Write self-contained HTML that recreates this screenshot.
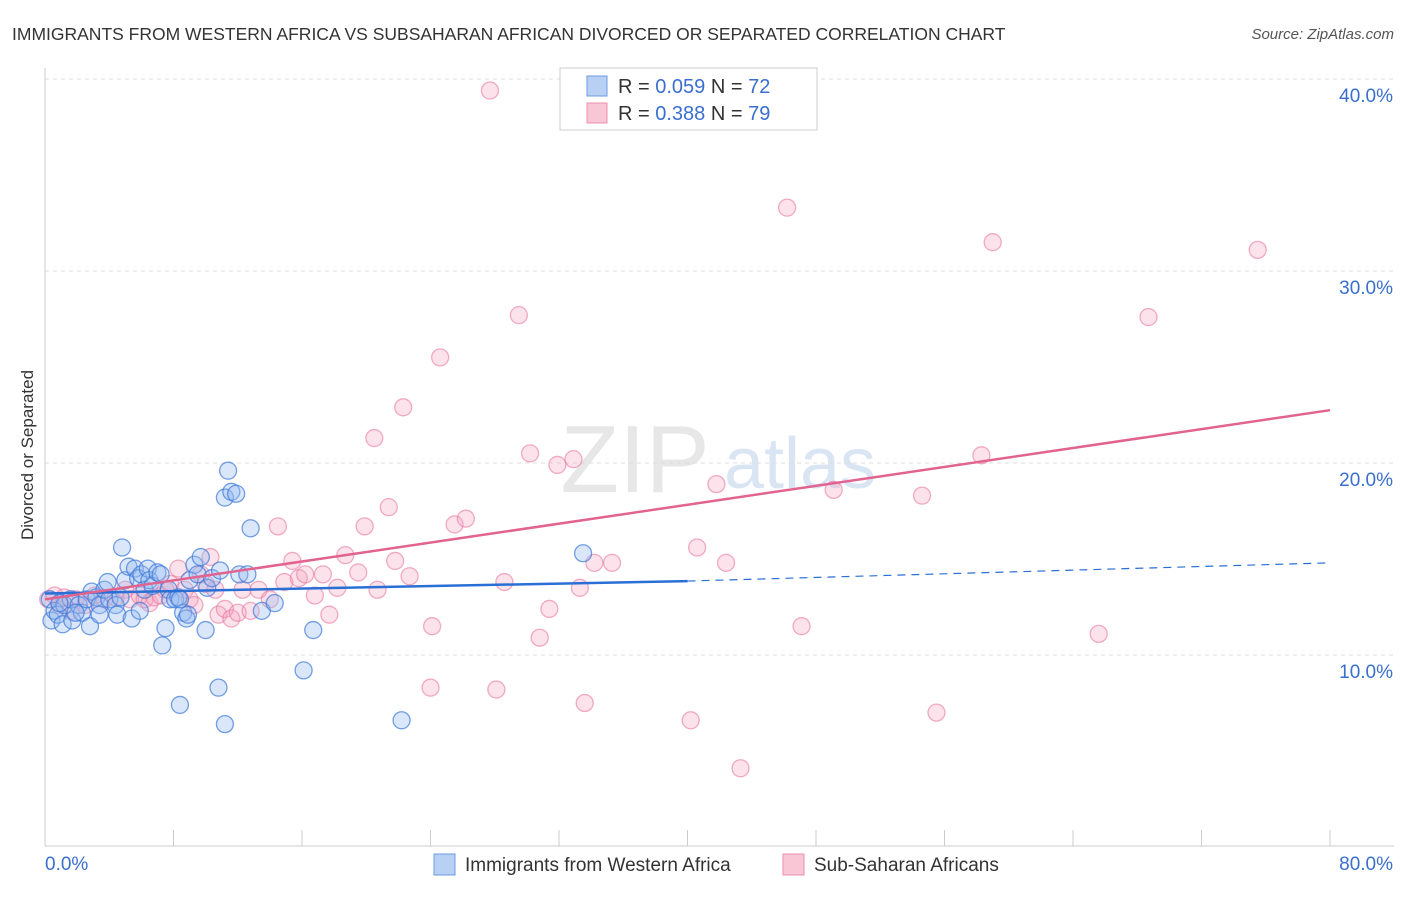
<!DOCTYPE html>
<html><head><meta charset="utf-8">
<style>
body{margin:0;background:#fff;font-family:"Liberation Sans",sans-serif;}
svg text{font-family:"Liberation Sans",sans-serif;}
</style></head>
<body>
<svg id="chart" width="1406" height="892" xmlns="http://www.w3.org/2000/svg">
<text x="12" y="40" font-size="17.5" fill="#333">IMMIGRANTS FROM WESTERN AFRICA VS SUBSAHARAN AFRICAN DIVORCED OR SEPARATED CORRELATION CHART</text>
<text x="1394" y="39" font-size="15" fill="#555" text-anchor="end" font-style="italic">Source: ZipAtlas.com</text>
<text transform="translate(33,455) rotate(-90)" font-size="17" fill="#333" text-anchor="middle">Divorced or Separated</text>
<g>
<text x="635" y="492" font-size="96" fill="#d8d8d8" text-anchor="middle" font-family="Liberation Serif" opacity="0.6">ZIP</text>
<text x="800" y="488" font-size="72" fill="#c3d4ee" text-anchor="middle" opacity="0.6">atlas</text>
</g>
<g id="grid"></g>
<g id="pts"></g>
<g id="lines"></g>
<g>
<rect x="560" y="68" width="257" height="62" fill="#fff" stroke="#ccc"/>
<rect x="587" y="76" width="20" height="20" fill="#b9d0f5" stroke="#6b9be0"/>
<rect x="587" y="103" width="20" height="20" fill="#f9c6d6" stroke="#ec8fae"/>
<text x="618" y="93" font-size="20" fill="#333">R = <tspan fill="#3a6fd0">0.059</tspan>   N = <tspan fill="#3a6fd0">72</tspan></text>
<text x="618" y="120" font-size="20" fill="#333">R = <tspan fill="#3a6fd0">0.388</tspan>   N = <tspan fill="#3a6fd0">79</tspan></text>
</g>
<g>
<rect x="434" y="854" width="21" height="21" fill="#b9d0f5" stroke="#6b9be0"/>
<text x="465" y="871" font-size="19" fill="#333">Immigrants from Western Africa</text>
<rect x="783" y="854" width="21" height="21" fill="#f9c6d6" stroke="#ec8fae"/>
<text x="814" y="871" font-size="19" fill="#333">Sub-Saharan Africans</text>
</g>
</svg>
<script>
const yTicks=[10,20,30,40];
const yTickLabels=["10.0%","20.0%","30.0%","40.0%"];
const xTickLabels=["0.0%","80.0%"];
const blueX=[0.3,0.4,0.6,0.8,1.1,1.2,1.6,1.7,2.1,2.3,2.6,2.8,2.9,3.2,3.4,3.7,3.9,4.0,4.4,4.5,4.7,4.8,5.0,5.2,5.4,5.6,5.8,6.0,6.2,6.4,6.5,6.7,7.0,7.2,7.3,7.5,7.7,7.8,8.1,8.3,8.4,8.6,8.8,8.9,9.0,9.3,9.5,9.7,10.0,10.1,10.4,10.8,10.9,11.2,11.2,11.4,11.6,11.9,12.1,12.6,12.8,13.5,14.3,16.1,16.7,22.2,33.5,8.4,5.9,3.4,0.9,1.9];
const blueY=[12.9,11.8,12.3,12.1,11.6,12.6,12.9,11.8,12.6,12.2,12.9,11.5,13.3,13.0,12.6,13.4,13.8,12.9,12.6,12.1,13.0,15.6,13.9,14.6,11.9,14.5,14.0,14.2,13.4,14.5,13.9,13.6,14.3,14.2,10.5,11.4,13.4,12.9,12.9,13.0,7.4,12.2,11.9,12.1,13.9,14.7,14.2,15.1,11.3,13.5,14.0,8.3,14.4,6.4,18.2,19.6,18.5,18.4,14.2,14.2,16.6,12.3,12.7,9.2,11.3,6.6,15.3,12.9,12.3,12.1,12.7,12.2];
const pinkX=[0.2,0.6,0.9,1.2,1.6,1.9,2.5,3.1,3.7,4.4,5.0,5.3,5.9,6.2,6.5,6.8,7.2,7.5,7.8,8.3,8.7,9.0,9.3,9.7,10.0,10.3,10.6,10.8,11.2,11.6,12.0,12.3,12.8,13.3,14.0,14.5,14.9,15.4,15.8,16.2,16.8,17.3,17.7,18.2,18.7,19.5,19.9,20.5,20.7,21.4,21.8,22.3,22.7,24.1,24.6,25.5,26.2,27.7,28.1,28.6,29.5,30.2,30.8,31.4,31.9,32.9,33.3,33.6,34.2,35.3,40.2,40.6,41.8,42.4,43.3,46.2,47.1,49.1,54.6,55.5,58.3,59.0,65.6,68.7,75.5,24.0];
const pinkY=[12.9,13.1,12.6,13.0,12.3,12.9,12.6,13.1,12.9,13.0,13.4,12.9,13.1,12.9,12.7,13.0,13.1,13.4,13.7,14.5,13.4,12.9,12.6,14.2,13.7,15.1,13.4,12.1,12.4,11.9,12.2,13.4,12.3,13.4,12.9,16.7,13.8,14.9,14.0,14.2,13.1,14.2,12.1,13.5,15.2,14.3,16.7,21.3,13.4,17.7,14.9,22.9,14.1,11.5,25.5,16.8,17.1,39.4,8.2,13.8,27.7,20.5,10.9,12.4,19.9,20.2,13.5,7.5,14.8,14.8,6.6,15.6,18.9,14.8,4.1,33.3,11.5,18.6,18.3,7.0,20.4,31.5,11.1,27.6,31.1,8.3];
const blueLineX=[0,40,80];
const blueLineY=[13.2,13.85,14.8];
const pinkLineX=[0,80];
const pinkLineY=[12.9,22.75];
const NS="http://www.w3.org/2000/svg";
const X0=45,X1=1330,Y0=847;
function xs(v){return X0+(v/80)*(X1-X0);}
function ys(v){return Y0-v*19.2;}
function mk(tag,attrs,parent){const e=document.createElementNS(NS,tag);for(const k in attrs)e.setAttribute(k,attrs[k]);parent.appendChild(e);return e;}
const grid=document.getElementById('grid');
const ax=mk('line',{x1:45,y1:68,x2:45,y2:846,stroke:'#ccc'},grid);


const bx=mk('line',{x1:45,y1:846,x2:1394,y2:846,stroke:'#ccc'},grid);


yTicks.forEach((t,i)=>{
  const g=mk('line',{x1:45,y1:ys(t),x2:1394,y2:ys(t),stroke:'#ddd','stroke-dasharray':'4,4'},grid);
  
  
  const tx=mk('text',{x:1393,y:ys(t)+23,'font-size':19,fill:'#3a6fd0','text-anchor':'end'},grid);
  tx.textContent=yTickLabels[i];
  
  
});
for(let i=0;i<=10;i++){
  const x=xs(i*8);
  const tk=mk('line',{x1:x,y1:830,x2:x,y2:846,stroke:'#ccc'},grid);
  
  
}
const xl0=mk('text',{x:45,y:870,'font-size':19,fill:'#3a6fd0'},grid);
xl0.textContent=xTickLabels[0];


const xl1=mk('text',{x:1393,y:870,'font-size':19,fill:'#3a6fd0','text-anchor':'end'},grid);
xl1.textContent=xTickLabels[1];


const pts=document.getElementById('pts');
pinkX.forEach((v,i)=>{
  const c=mk('circle',{cx:xs(v),cy:ys(pinkY[i]),r:8.5,fill:'rgba(244,160,188,0.3)',stroke:'rgba(232,120,160,0.6)','stroke-width':1.3},pts);
  
  
});
blueX.forEach((v,i)=>{
  const c=mk('circle',{cx:xs(v),cy:ys(blueY[i]),r:8.5,fill:'rgba(150,185,240,0.35)',stroke:'rgba(60,120,215,0.7)','stroke-width':1.3},pts);
  
  
});
const lines=document.getElementById('lines');
const bl=mk('line',{x1:xs(blueLineX[0]),y1:ys(blueLineY[0]),x2:xs(blueLineX[1]),y2:ys(blueLineY[1]),stroke:'#2a6fd6','stroke-width':2.5},lines);


const bd=mk('line',{x1:xs(blueLineX[1]),y1:ys(blueLineY[1]),x2:xs(blueLineX[2]),y2:ys(blueLineY[2]),stroke:'#2a6fd6','stroke-width':1.2,'stroke-dasharray':'8,6'},lines);


const pl=mk('line',{x1:xs(pinkLineX[0]),y1:ys(pinkLineY[0]),x2:xs(pinkLineX[1]),y2:ys(pinkLineY[1]),stroke:'#e2638f','stroke-width':2.5},lines);


</script>
</body></html>
